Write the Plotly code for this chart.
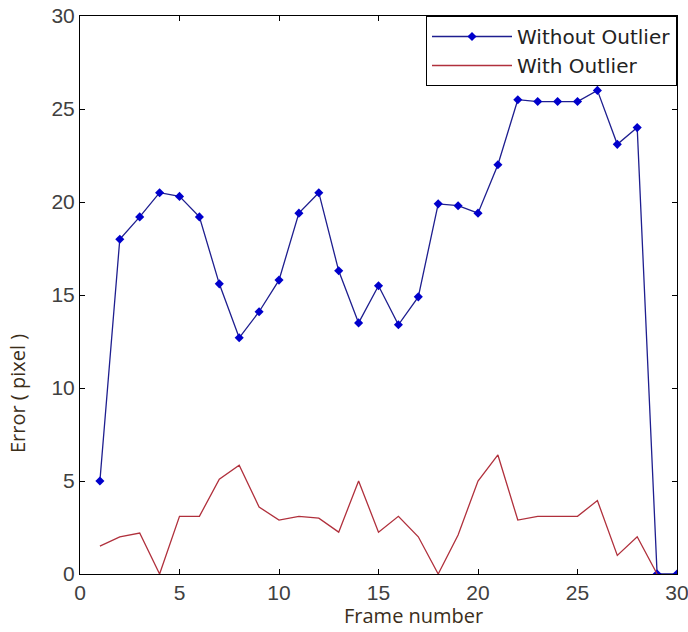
import plotly.graph_objects as go

frames = list(range(1, 31))
without_outlier = [5.0, 18.0, 19.2, 20.5, 20.3, 19.2, 15.6, 12.7, 14.1, 15.8,
                   19.4, 20.5, 16.3, 13.5, 15.5, 13.4, 14.9, 19.9, 19.8, 19.4,
                   22.0, 25.5, 25.4, 25.4, 25.4, 26.0, 23.1, 24.0, 0.0, 0.0]
with_frames = list(range(1, 30))
with_outlier = [1.5, 2.0, 2.2, 0.0, 3.1, 3.1, 5.1, 5.85, 3.6, 2.9,
                3.1, 3.0, 2.25, 5.0, 2.25, 3.1, 2.0, 0.0, 2.1, 5.0,
                6.4, 2.9, 3.1, 3.1, 3.1, 3.95, 1.0, 2.0, 0.0]
x_ticks = [0, 5, 10, 15, 20, 25, 30]
y_ticks = [0, 5, 10, 15, 20, 25, 30]

fig = go.Figure()
fig.add_trace(go.Scatter(
    x=frames, y=without_outlier, mode="lines+markers", name="Without Outlier",
    line=dict(color="#1e1e8f", width=1.3),
    marker=dict(symbol="diamond", size=7, color="#0000cc"),
))
fig.add_trace(go.Scatter(
    x=with_frames, y=with_outlier, mode="lines", name="With Outlier",
    line=dict(color="#b0303c", width=1.3),
))

axis_common = dict(
    showline=True, linecolor="black", linewidth=1, mirror="ticks",
    ticks="inside", ticklen=5, tickcolor="black", showgrid=False, zeroline=False,
    automargin=False, ticklabeloverflow="allow",
    tickfont=dict(family="Liberation Sans, Arial, sans-serif", size=21, color="#404040"),
)

title_font = dict(family="Open Sans, sans-serif", size=20, color="#3b2e1a")

fig.update_layout(
    width=688, height=632,
    margin=dict(l=80, r=11, t=16, b=58),
    paper_bgcolor="white", plot_bgcolor="white",
    xaxis=dict(range=[0, 30], tickvals=x_ticks, ticklabelstandoff=0, **axis_common),
    yaxis=dict(range=[0, 30], tickvals=y_ticks, ticklabelstandoff=0, **axis_common),
    legend=dict(x=1, y=1, xanchor="right", yanchor="top",
                bordercolor="black", borderwidth=1, bgcolor="white",
                font=dict(family="DejaVu Sans, sans-serif", size=20, color="#222222"),
                itemwidth=80, tracegroupgap=0),
    showlegend=True,
    annotations=[
        dict(text="Frame number", xref="paper", yref="paper", x=0.558, y=0,
             xanchor="center", yanchor="middle", yshift=-41, showarrow=False,
             font=title_font),
        dict(text="Error ( pixel )", xref="paper", yref="paper", x=0, y=0.3226,
             xanchor="center", yanchor="middle", xshift=-62, textangle=-90,
             showarrow=False, font=title_font),
    ],
)

fig.write_html("out.html")
